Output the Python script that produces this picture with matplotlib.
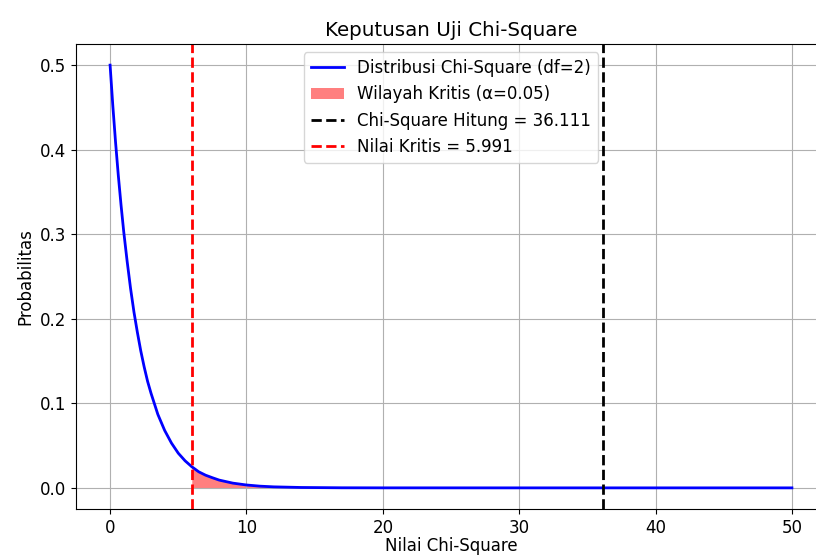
import numpy as np
import matplotlib
matplotlib.use("Agg")
import matplotlib.pyplot as plt

# values
df_chi = 2
chi_hitung = 36.111
nilai_kritis = 5.991
alpha = 0.05

x_vals = np.array([0, 0.2, 0.4, 0.6, 0.8, 1.0, 1.25, 1.5, 1.75, 2.0, 2.25, 2.5, 2.75,
                   3.0, 3.5, 4.0, 4.5, 5.0, 5.5, 5.991, 6.5, 7.0, 7.5, 8.0, 9.0, 10,
                   11, 12, 14, 17, 20, 30, 40, 50])
pdf_vals = np.array([0.500, 0.452, 0.409, 0.370, 0.335, 0.303, 0.268, 0.236, 0.208,
                     0.184, 0.162, 0.143, 0.126, 0.112, 0.087, 0.068, 0.053, 0.041,
                     0.032, 0.025, 0.019, 0.015, 0.012, 0.0092, 0.0056, 0.0034,
                     0.0020, 0.0012, 0.00046, 0.0001, 0.00002, 0.0, 0.0, 0.0])

plt.rcParams['font.size'] = 12

fig = plt.figure(figsize=(8.16, 5.58), dpi=100)
ax = fig.add_axes([76 / 816, 49 / 558, 750 / 816, 465 / 558])

ax.plot(x_vals, pdf_vals, color='blue', lw=2, label='Distribusi Chi-Square (df=%d)' % df_chi)
ax.fill_between(x_vals, pdf_vals, where=x_vals >= nilai_kritis, color='red', alpha=0.5,
                lw=0, label='Wilayah Kritis (α=%.2f)' % alpha)
ax.axvline(chi_hitung, color='black', ls='--', lw=2, label='Chi-Square Hitung = %.3f' % chi_hitung)
ax.axvline(nilai_kritis, color='red', ls='--', lw=2, label='Nilai Kritis = %.3f' % nilai_kritis)

ax.set_xlim(-2.5, 52.5)
ax.set_ylim(-0.025, 0.525)
ax.set_xticks([0, 10, 20, 30, 40, 50])
ax.set_title('Keputusan Uji Chi-Square', fontsize=14.3)
# label sits right at the bottom edge like the reference, nudged up to stay inside
ax.set_xlabel('Nilai Chi-Square', labelpad=0)
ax.set_ylabel('Probabilitas')
ax.grid(True)
ax.legend(loc='upper center')

fig.savefig('out.png', dpi=100)
